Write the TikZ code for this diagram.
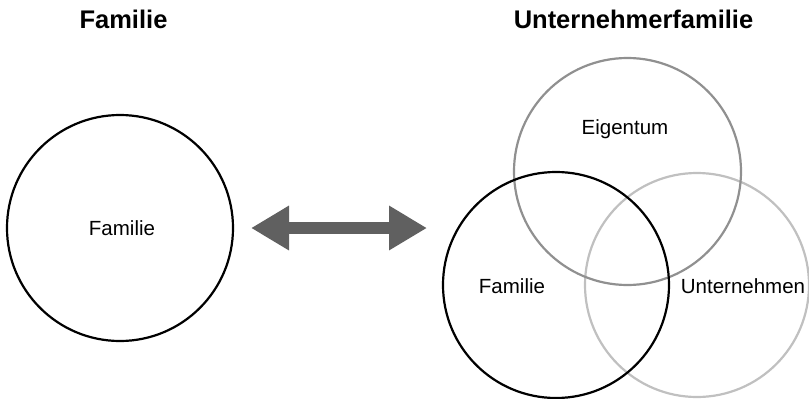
\documentclass[tikz,border=0pt]{standalone}
\usepackage{fontspec}
\setmainfont{Liberation Sans}
\usetikzlibrary{arrows.meta}
\definecolor{arrowgray}{HTML}{606060}
\definecolor{owngray}{HTML}{909090}
\definecolor{firmgray}{HTML}{C0C0C0}
\tikzset{
  ring/.style={circle, draw, line width=2.2pt, inner sep=0pt, minimum size=#1},
  lbl/.style={font=\fontsize{20.5}{24}\selectfont, inner sep=0pt},
  ttl/.style={font=\fontsize{25.5}{30}\selectfont\bfseries, inner sep=0pt},
  bigarrow/.style={draw=arrowgray, line width=12pt,
    {Triangle[length=38pt,width=42pt]}-{Triangle[length=38pt,width=42pt]}}
}
\begin{document}
\begin{tikzpicture}[x=1pt,y=-1pt]
\useasboundingbox (0,0) rectangle (809,399);
% titles
\node[ttl] (t1) at (123.5,19) {Familie};
\node[ttl] (t2) at (633.5,19) {Unternehmerfamilie};
% left circle
\node[ring=226pt, draw=black] (fam) at (120,228) {};
\node[lbl] (famlbl) at (122,228) {Familie};
% arrow
\coordinate (al) at (251,228);
\coordinate (ar) at (427,228);
\draw[bigarrow] (al) -- (ar);
% Venn circles
\node[ring=224pt, draw=firmgray] (firm) at (697,285) {};
\node[ring=227pt, draw=owngray] (own) at (627.5,171.5) {};
\node[ring=226pt, draw=black] (vfam) at (556,285) {};
\node[lbl] (ownlbl) at (625,129) {Eigentum};
\node[lbl] (vfamlbl) at (512,286) {Familie};
\node[lbl] (firmlbl) at (743,286) {Unternehmen};
\end{tikzpicture}
\end{document}
